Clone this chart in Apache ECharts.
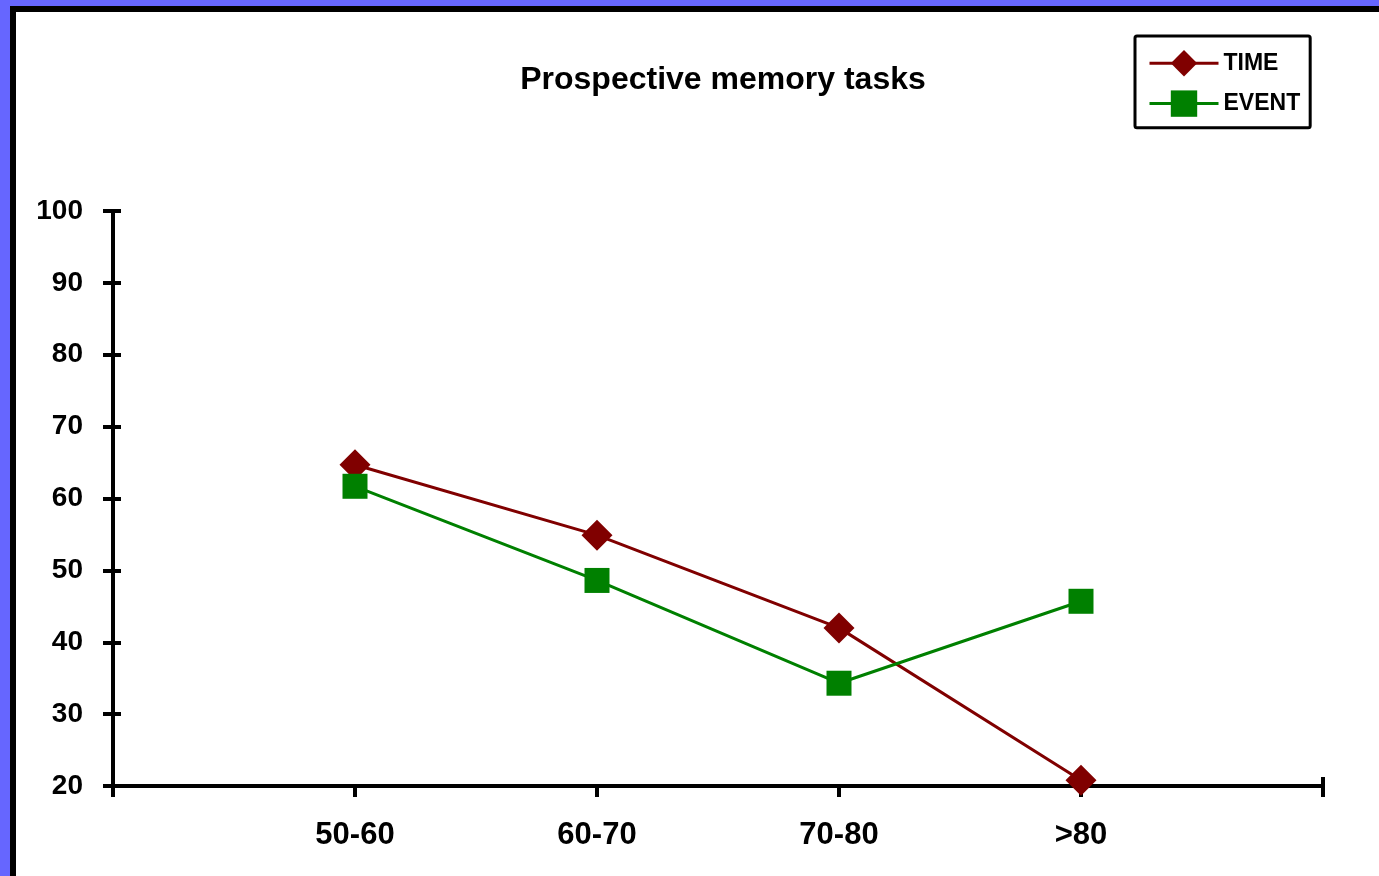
<!DOCTYPE html>
<html>
<head>
<meta charset="utf-8">
<script src="https://cdn.jsdelivr.net/npm/echarts@6/dist/echarts.min.js"></script>
<style>
  html, body { margin: 0; padding: 0; width: 1379px; height: 876px; overflow: hidden; background: #6666FF; }
  #frame { position: absolute; left: 10px; top: 6px; width: 1400px; height: 900px;
           border-left: 6px solid #000; border-top: 6px solid #000; background: #fff; }
  #chart { position: absolute; left: 0; top: 0; width: 1379px; height: 876px; }
</style>
</head>
<body>
<div id="frame"></div>
<div id="chart"></div>
<script>
// Age groups and task scores
const categories = ['50-60', '60-70', '70-80', '>80'];
const timeValues = [64.7, 54.9, 42.0, 20.8];
const eventValues = [61.7, 48.6, 34.3, 45.7];
const yMin = 20, yMax = 100, yStep = 10;

// The category axis carries an empty slot on each side so the groups sit inside the plot
const axisCats = [''].concat(categories, ['']);
const pad = arr => [null].concat(arr, [null]);

const FONT = '"Liberation Sans", Arial, sans-serif';
const chart = echarts.init(document.getElementById('chart'));
chart.setOption({
  animation: false,
  backgroundColor: 'transparent',
  textStyle: { fontFamily: FONT },
  title: {
    text: 'Prospective memory tasks',
    left: 718, top: 59, textAlign: 'center',
    textStyle: { fontFamily: FONT, fontWeight: 'bold', fontSize: 32, color: '#000' }
  },
  legend: {
    orient: 'vertical',
    left: 1135, top: 36,
    padding: [14, 10, 11, 13],
    borderColor: '#000', borderWidth: 3, borderRadius: 2,
    backgroundColor: '#fff',
    itemWidth: 69, itemHeight: 33, itemGap: 14,
    lineStyle: { width: 3 },
    textStyle: { fontFamily: FONT, fontWeight: 'bold', fontSize: 23, color: '#000' },
    data: ['TIME', 'EVENT']
  },
  grid: { left: 113, right: 56, top: 211, bottom: 90 },
  xAxis: [{
    type: 'category', data: axisCats, boundaryGap: false,
    axisLine: { lineStyle: { color: '#000', width: 4 } },
    axisTick: { show: true, interval: 0, length: 11, lineStyle: { color: '#000', width: 4 } },
    axisLabel: { interval: 0, margin: 34, fontFamily: FONT, fontWeight: 'bold', fontSize: 31, color: '#000' },
    splitLine: { show: false }
  }, {
    type: 'category', data: axisCats, boundaryGap: false, position: 'bottom',
    axisLine: { show: false },
    axisTick: { show: true, inside: true, length: 9,
      interval: (i) => i === axisCats.length - 1,
      lineStyle: { color: '#000', width: 4 } },
    axisLabel: { show: false },
    splitLine: { show: false }
  }],
  yAxis: [{
    type: 'value', min: yMin, max: yMax, interval: yStep,
    axisLine: { show: true, lineStyle: { color: '#000', width: 4 } },
    axisTick: { show: true, length: 10, lineStyle: { color: '#000', width: 4 } },
    axisLabel: { margin: 30, fontFamily: FONT, fontWeight: 'bold', fontSize: 28, color: '#000' },
    splitLine: { show: false }
  }, {
    type: 'value', min: yMin, max: yMax, interval: yStep, position: 'left',
    axisLine: { show: false },
    axisTick: { show: true, inside: true, length: 8, lineStyle: { color: '#000', width: 4 } },
    axisLabel: { show: false },
    splitLine: { show: false }
  }],
  series: [{
    name: 'TIME', type: 'line', data: pad(timeValues),
    color: '#800000',
    lineStyle: { color: '#800000', width: 3 },
    symbol: 'diamond', symbolSize: 31,
    itemStyle: { color: '#800000' }
  }, {
    name: 'EVENT', type: 'line', data: pad(eventValues),
    color: '#008000',
    lineStyle: { color: '#008000', width: 3 },
    symbol: 'rect', symbolSize: 25,
    itemStyle: { color: '#008000' }
  }]
});
</script>
</body>
</html>
